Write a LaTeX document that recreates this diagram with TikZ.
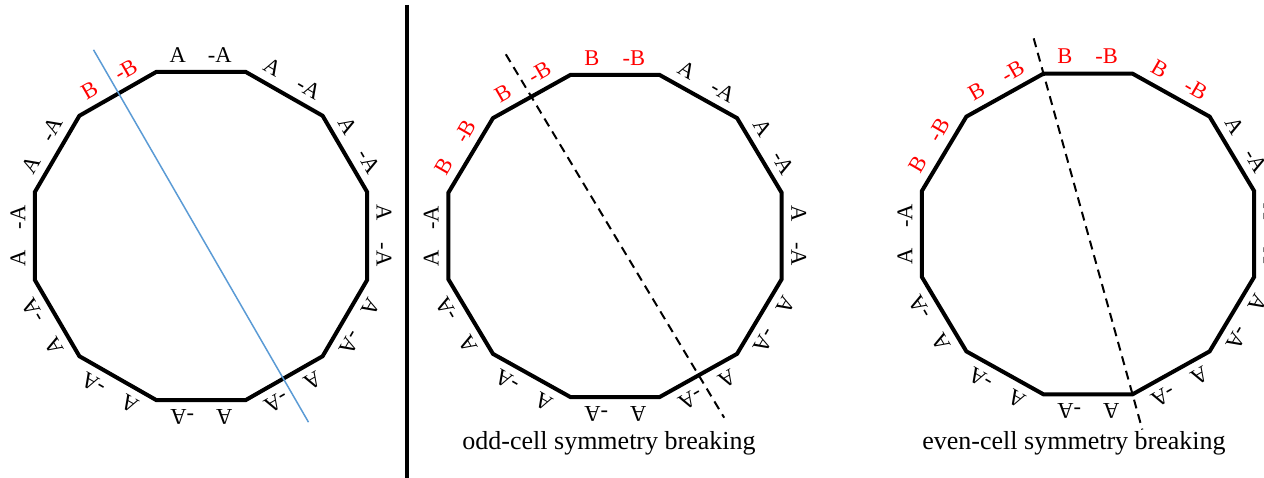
\documentclass[tikz,border=0pt]{standalone}
\usepackage{fontspec}
\setmainfont{Liberation Serif}
\usetikzlibrary{calc}
\definecolor{axisblue}{RGB}{91,155,213}

% two cell labels on the edge of ring #1 whose outer normal is #2
\newcommand{\cellpair}[5]{%
  \pgfmathtruncatemacro{\vi}{mod(#2/30,12)}%
  \pgfmathtruncatemacro{\vj}{mod(#2/30+11,12)}%
  \node[#5, rotate=#2-90] (#1-#2a) at ($(#1-v\vi)!0.24!(#1-v\vj)+(#2:17)$) {#3};
  \node[#5, rotate=#2-90] (#1-#2b) at ($(#1-v\vi)!0.71!(#1-v\vj)+(#2:17)$) {#4};
}

\begin{document}
\begin{tikzpicture}[
    x=1pt, y=1pt,
    ring/.style={line width=4pt, line join=miter},
    lab/.style={font=\fontsize{22.5}{22.5}\selectfont, inner sep=0pt},
    redlab/.style={lab, text=red},
    mirror/.style={line width=1.5pt, draw=axisblue},
    cut/.style={line width=2pt, dash pattern=on 9pt off 6pt},
    caption/.style={font=\fontsize{26}{26}\selectfont, anchor=base}
]
\useasboundingbox (0,0) rectangle (1264,478);

% separator
\coordinate (septop) at (407,473);
\coordinate (sepbot) at (407,0);
\draw[line width=3.5pt] (septop) -- (sepbot);

% the three rings
\coordinate (left) at (201,242);
\coordinate (mid) at (615,242);
\coordinate (right) at (1088,244);
\foreach \c/\rx/\ry in {left/172/170, mid/172.6/166.7, right/172/166}{
  \foreach \i in {0,...,11}
    \coordinate (\c-v\i) at ($(\c)+({\rx*cos(15+30*\i)},{\ry*sin(15+30*\i)})$);
  \draw[ring] (\c-v0) \foreach \i in {1,...,11}{-- (\c-v\i)} -- cycle;
}

% cell labels
\foreach \a in {0,30,60,90,150,180,210,240,270,300,330}{\cellpair{left}{\a}{A}{-A}{lab}}
\cellpair{left}{120}{B}{-B}{redlab}

\foreach \a in {0,30,60,180,210,240,270,300,330}{\cellpair{mid}{\a}{A}{-A}{lab}}
\foreach \a in {90,120,150}{\cellpair{mid}{\a}{B}{-B}{redlab}}

\foreach \a in {0,30,180,210,240,270,300,330}{\cellpair{right}{\a}{A}{-A}{lab}}
\foreach \a in {60,90,120,150}{\cellpair{right}{\a}{B}{-B}{redlab}}

% symmetry lines
\coordinate (left-m1) at ($(left)+(120:215)$);
\coordinate (left-m2) at ($(left)+(300:215)$);
\draw[mirror] (left-m1) -- (left-m2);

\coordinate (mid-m1) at ($(mid)+(121:212)$);
\coordinate (mid-m2) at ($(mid)+(301:212)$);
\draw[cut] (mid-m1) -- (mid-m2);

\coordinate (right-m1) at ($(right-v9)!1.11!(right-v3)$);
\coordinate (right-m2) at ($(right-v3)!1.11!(right-v9)$);
\draw[cut] (right-m1) -- (right-m2);

% captions
\node[caption] (oddcap) at (609,28) {odd-cell symmetry breaking};
\node[caption] (evencap) at (1074,28) {even-cell symmetry breaking};
\end{tikzpicture}
\end{document}
